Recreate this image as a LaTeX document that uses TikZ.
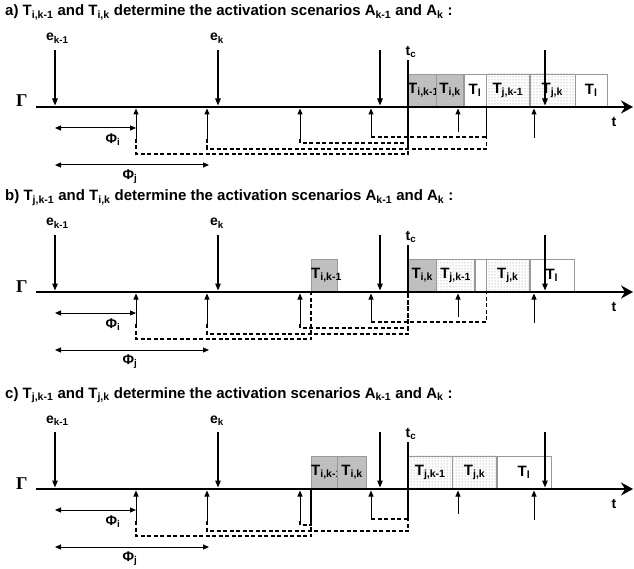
\documentclass[tikz,border=0pt]{standalone}
\usepackage{fontspec}
\setmainfont{Liberation Sans}
\newfontfamily\gammafont{Liberation Serif}
\usetikzlibrary{positioning, arrows.meta, patterns}

\begin{document}
\begin{tikzpicture}[
        x=1pt, y=-1pt,
        every node/.style={inner sep=0pt},
        title/.style={anchor=base west, font=\fontsize{15}{17}\selectfont\bfseries},
        lbl/.style={font=\fontsize{14}{16}\selectfont\bfseries},
        axisline/.style={line width=2.6pt, -{Stealth[length=12pt, width=13pt, inset=4pt]}},
        event/.style={line width=1.3pt, -{Triangle[length=7pt, width=5.5pt]}},
        act/.style={line width=1pt, -{Triangle[length=6pt, width=5pt]}},
        phase/.style={line width=1pt, {Triangle[length=6pt, width=5pt]}-{Triangle[length=6pt, width=5pt]}},
        link/.style={line width=1.3pt, dash pattern=on 4pt off 2.5pt},
        tcline/.style={line width=2.2pt},
        task/.style={draw=gray!80, minimum height=33pt, anchor=south west, align=center, font=\fontsize{15}{16}\selectfont\bfseries},
        ibox/.style={task, fill=gray!50},
        jbox/.style={task, pattern=dots, pattern color=gray},
        lbox/.style={task, fill=white}
    ]
    \useasboundingbox (0,0) rectangle (634,569);

    % a) both activations from T_i
    \begin{scope}[shift={(0,107)}]
        \node[title] (ta) at (5,-91) {a) T\textsubscript{i,k-1} and T\textsubscript{i,k} determine the activation scenarios A\textsubscript{k-1} and A\textsubscript{k} :};
        \node[ibox, text width=28pt] (a1) at (408,0) {T\textsubscript{i,k-1}};
        \node[ibox, text width=27pt, right=0pt of a1] (a2) {T\textsubscript{i,k}};
        \node[lbox, text width=22pt, right=0pt of a2] (a3) {T\textsubscript{l}};
        \node[jbox, text width=43pt, right=0pt of a3] (a4) {T\textsubscript{j,k-1}};
        \node[jbox, text width=45pt, right=0pt of a4] (a5) {T\textsubscript{j,k}};
        \node[lbox, text width=32pt, right=0pt of a5] (a6) {T\textsubscript{l}};
        \draw[link] (136,32) -- (136,47) -| (a1.south west);
        \draw[link] (207,32) -- (207,42) -| (a4.south west);
        \draw[link] (300,32) -- (300,36) -| (a1.south west);
        \draw[link] (371,30) -| (a4.south west);
    \end{scope}

    % b) T_j,k-1 and T_i,k
    \begin{scope}[shift={(0,292)}]
        \node[title] (tb) at (5,-91) {b) T\textsubscript{j,k-1} and T\textsubscript{i,k} determine the activation scenarios A\textsubscript{k-1} and A\textsubscript{k} :};
        \node[ibox, text width=26pt] (b1) at (311,0) {T\textsubscript{i,k-1}};
        \node[ibox, text width=28pt] (b2) at (408,0) {T\textsubscript{i,k}};
        \node[jbox, text width=38pt, right=0pt of b2] (b3) {T\textsubscript{j,k-1}};
        \node[lbox, text width=11pt, right=0pt of b3] (b4) {};
        \node[jbox, text width=43pt, right=0pt of b4] (b5) {T\textsubscript{j,k}};
        \node[lbox, text width=44pt, right=0pt of b5] (b6) {T\textsubscript{l}};
        \draw[link] (136,32) -- (136,47) -| (b1.south west);
        \draw[link] (207,32) -- (207,42) -| (b2.south west);
        \draw[link] (300,32) -- (300,36) -| (b2.south west);
        \draw[link] (371,30) -| (b5.south west);
    \end{scope}

    % c) both activations from T_j
    \begin{scope}[shift={(0,489)}]
        \node[title] (tc) at (5,-91) {c) T\textsubscript{j,k-1} and T\textsubscript{j,k} determine the activation scenarios A\textsubscript{k-1} and A\textsubscript{k} :};
        \node[ibox, text width=26pt] (c1) at (311,0) {T\textsubscript{i,k-1}};
        \node[ibox, text width=29pt, right=0pt of c1] (c2) {T\textsubscript{i,k}};
        \node[jbox, text width=44pt] (c3) at (408,0) {T\textsubscript{j,k-1}};
        \node[jbox, text width=44pt, right=0pt of c3] (c4) {T\textsubscript{j,k}};
        \node[lbox, text width=54pt, right=0pt of c4] (c5) {T\textsubscript{l}};
        \draw[link] (136,32) -- (136,47) -| (c1.south west);
        \draw[link] (207,32) -- (207,42) -| (c3.south west);
        \draw[link] (300,32) -- (300,36) -| (c1.south west);
        \draw[link] (371,30) -| (c3.south west);
    \end{scope}

    % time axis, events and offsets, same in every panel
    \foreach \yy/\nm in {107/a, 292/b, 489/c}{
        \begin{scope}[shift={(0,\yy)}]
            \node[anchor=base west, font=\fontsize{18}{20}\selectfont\gammafont\bfseries] (g\nm) at (16,0) {Γ};
            \draw[axisline] (36,0) -- (633,0);
            \node[lbl] (t\nm) at (614,15) {t};
            \foreach \x in {55,218,380,545}
                \draw[event] (\x,-57) -- (\x,-1.5);
            \node[lbl, anchor=base west] (e1\nm) at (46,-66) {e\textsubscript{k-1}};
            \node[lbl, anchor=base west] (e2\nm) at (210,-66) {e\textsubscript{k}};
            \draw[tcline] (408,-47) -- (408,0);
            \node[lbl] (tc\nm) at (411,-55) {t\textsubscript{c}};
            \foreach \x/\s in {136/32, 207/32, 300/32, 371/30, 458/25, 534/31}
                \draw[act] (\x,\s) -- (\x,1.5);
            \draw[phase] (55,21) -- (136,21);
            \node[lbl] (pi\nm) at (113,33) {Φ\textsubscript{i}};
            \draw[phase] (55,58) -- (209,58);
            \node[lbl] (pj\nm) at (130,70) {Φ\textsubscript{j}};
        \end{scope}
    }

\end{tikzpicture}
\end{document}
